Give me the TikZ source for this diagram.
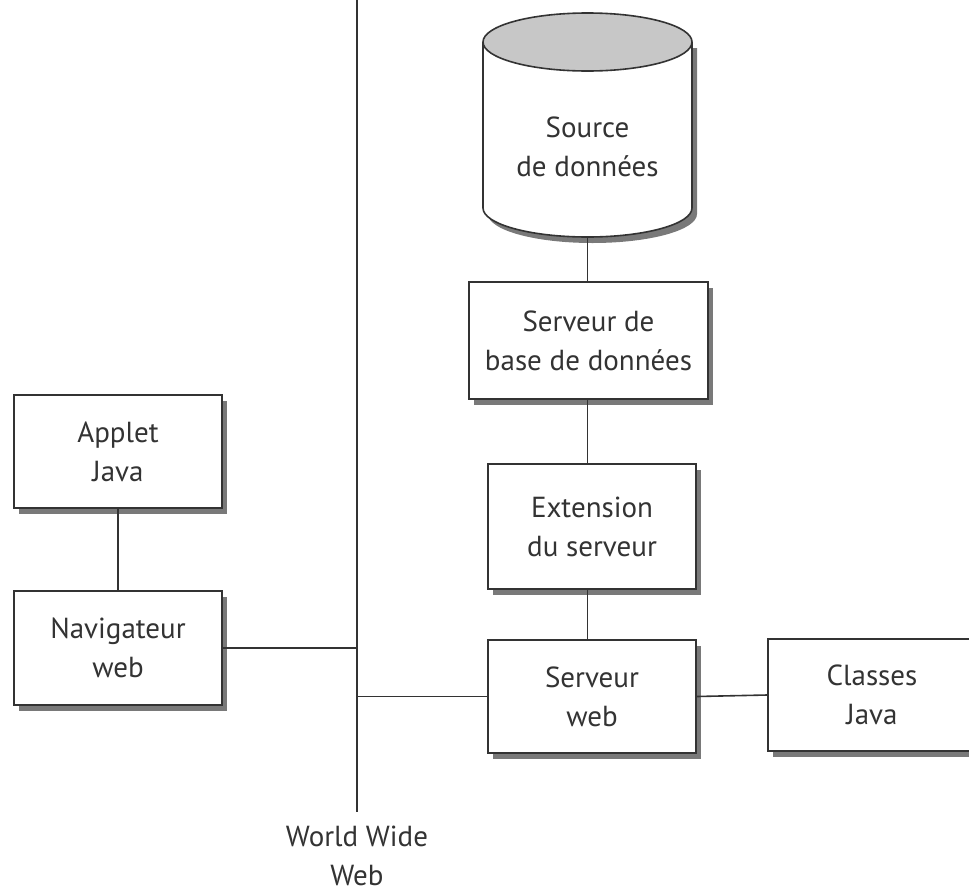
\documentclass[tikz,border=0pt]{standalone}
\usepackage{fontspec}
\setmainfont{PT Sans}
\usetikzlibrary{shadows}

\definecolor{ink}{HTML}{333333}
\tikzset{
	boxnode/.style={draw=ink, line width=1.6pt, fill=white, align=center, text=ink,
		inner sep=0pt, drop shadow={shadow xshift=5pt, shadow yshift=-6pt, fill=black!75, opacity=.7}},
	wire/.style={draw=ink, line width=1.6pt},
	drum/.pic={
		\path[pic actions] (-104.5,-83) -- (-104.5,83) arc[start angle=180, end angle=0, x radius=104.5, y radius=29]
			-- (104.5,-83) -- cycle;
	},
}

\begin{document}
\begin{tikzpicture}[x=1pt, y=-1pt, every node/.style={font=\fontsize{29}{39}\selectfont}]
	\useasboundingbox (0,0) rectangle (969,892);
	% world wide web backbone
	\coordinate (wtop) at (357,0);
	\coordinate (wbot) at (357,812);
	\draw[wire] (wtop) -- (wbot);
	\node[text=ink, align=center] (www) at (357,856) {World Wide\\Web};

	% client side
	\node[boxnode, minimum width=208pt, minimum height=113pt] (applet) at (118,451.5) {Applet\\Java};
	\node[boxnode, minimum width=208pt, minimum height=114pt] (nav) at (118,648) {Navigateur\\web};

	% data source (cylinder)
	\pic[fill=black!75, opacity=.7] at (592.5,131) {drum};
	\pic[fill=white] at (587.5,125) {drum};
	\draw[ink, line width=1.6pt] (483,42) -- (483,208) arc[start angle=180, end angle=0, x radius=104.5, y radius=29]
		-- (692,42);
	\filldraw[draw=ink, line width=1.6pt, fill=black!22] (587.5,42) ellipse[x radius=104.5, y radius=29];
	\node[minimum width=209pt, minimum height=224pt, inner sep=0pt, text=ink, align=center] (src) at (587.5,125) {};
	\node[text=ink, align=center] (srctxt) at (587.5,147) {Source\\de données};

	% server side
	\node[boxnode, minimum width=239pt, minimum height=117pt] (sbd) at (588.5,340.5) {Serveur de\\base de données};
	\node[boxnode, minimum width=208pt, minimum height=125pt] (ext) at (592,526.5) {Extension\\du serveur};
	\node[boxnode, minimum width=208pt, minimum height=113pt] (sweb) at (592,696.5) {Serveur\\web};
	\node[boxnode, minimum width=208pt, minimum height=112pt] (cls) at (872,695) {Classes\\Java};

	% connections
	\draw[wire] (applet.south) -- (nav.north);
	\draw[wire] (nav.east) -- (nav.east -| wtop);
	\draw[wire] (sweb.west) -- (sweb.west -| wtop);
	\draw[wire] (src.south) -- (src.south |- sbd.north);
	\draw[wire] (sbd.south -| src.south) -- (src.south |- ext.north);
	\draw[wire] (ext.south -| src.south) -- (src.south |- sweb.north);
	\draw[wire] (sweb.east) -- (cls.west);
\end{tikzpicture}
\end{document}
